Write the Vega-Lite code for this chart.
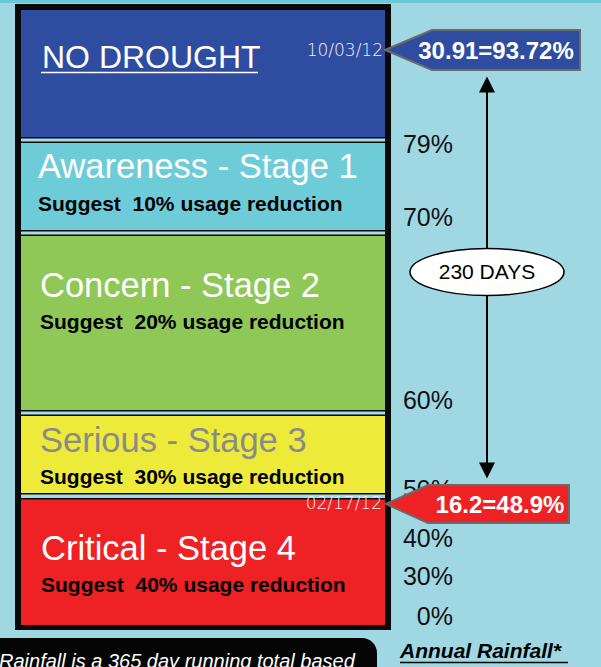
{
  "$schema": "https://vega.github.io/schema/vega-lite/v6.json",
  "width": 601,
  "height": 667,
  "autosize": {"type": "none"},
  "padding": 0,
  "background": "#9FD8E3",
  "config": {"view": {"stroke": null}},
  "datasets": {
    "strip": [{"left": 0, "right": 601, "top": 0, "bottom": 3}],
    "frame": [{"left": 15, "right": 391, "top": 4, "bottom": 630}],
    "bands": [
      {"stage": "No Drought", "left": 21, "right": 385, "top": 10, "bottom": 137},
      {"stage": "Awareness", "left": 21, "right": 385, "top": 143, "bottom": 230},
      {"stage": "Concern", "left": 21, "right": 385, "top": 236, "bottom": 410},
      {"stage": "Serious", "left": 21, "right": 385, "top": 416, "bottom": 493},
      {"stage": "Critical", "left": 21, "right": 385, "top": 499.5, "bottom": 625}
    ],
    "gaps": [
      {"left": 21, "right": 385, "top": 138.5, "bottom": 141.5},
      {"left": 21, "right": 385, "top": 231.5, "bottom": 234.5},
      {"left": 21, "right": 385, "top": 411.5, "bottom": 414.5},
      {"left": 21, "right": 385, "top": 494.5, "bottom": 498}
    ],
    "heading": [{"label": "NO DROUGHT", "x": 42, "y": 68}],
    "headingLine": [{"x": 41, "x2": 258, "y": 72.5}],
    "titles": [
      {"label": "Awareness - Stage 1", "x": 38, "y": 178},
      {"label": "Concern - Stage 2", "x": 40, "y": 297},
      {"label": "Serious - Stage 3", "x": 40, "y": 452},
      {"label": "Critical - Stage 4", "x": 41, "y": 560}
    ],
    "suggest": [
      {"label": "Suggest\u00a0 10% usage reduction", "x": 38, "y": 211},
      {"label": "Suggest\u00a0 20% usage reduction", "x": 40, "y": 329},
      {"label": "Suggest\u00a0 30% usage reduction", "x": 40, "y": 484},
      {"label": "Suggest\u00a0 40% usage reduction", "x": 41, "y": 592}
    ],
    "levels": [
      {"label": "79%", "x": 453, "y": 153},
      {"label": "70%", "x": 453, "y": 226},
      {"label": "60%", "x": 453, "y": 409},
      {"label": "50%", "x": 453, "y": 498},
      {"label": "40%", "x": 453, "y": 547},
      {"label": "30%", "x": 453, "y": 585},
      {"label": "0%", "x": 453, "y": 625}
    ],
    "arrowLine": [{"x": 487, "y": 90, "y2": 465}],
    "arrowUp": [{"x": 487, "y": 84.5}],
    "arrowDown": [{"x": 487, "y": 470.5}],
    "days": [{"label": "230 DAYS", "x": 487, "y": 272}],
    "calloutTop": [{"label": "30.91=93.72%", "cx": 482.5, "cy": 50, "tx": 496, "ty": 59}],
    "calloutBottom": [{"label": "16.2=48.9%", "cx": 477.5, "cy": 504, "tx": 500, "ty": 513}],
    "dates": [
      {"label": "10/03/12", "x": 383, "y": 56},
      {"label": "02/17/12", "x": 382, "y": 509}
    ],
    "note": [{"left": -20, "right": 377, "top": 638, "bottom": 720}],
    "noteText": [{"label": "Rainfall is a 365 day running total based", "x": -1, "y": 668}],
    "footer": [{"label": "Annual Rainfall*", "x": 400, "y": 658}],
    "footerLine": [{"x": 400, "x2": 568, "y": 662.5}]
  },
  "layer": [
    {
      "data": {"name": "strip"},
      "mark": {"type": "rect", "color": "#6CC7D6"},
      "encoding": {
        "x": {"field": "left", "type": "quantitative", "scale": {"domain": [0, 601], "nice": false, "zero": false}, "axis": null},
        "x2": {"field": "right"},
        "y": {"field": "top", "type": "quantitative", "scale": {"domain": [0, 667], "nice": false, "zero": false, "reverse": true}, "axis": null},
        "y2": {"field": "bottom"}
      }
    },
    {
      "data": {"name": "frame"},
      "mark": {"type": "rect", "color": "#0A0A0A"},
      "encoding": {
        "x": {"field": "left", "type": "quantitative", "scale": {"domain": [0, 601], "nice": false, "zero": false}, "axis": null},
        "x2": {"field": "right"},
        "y": {"field": "top", "type": "quantitative", "scale": {"domain": [0, 667], "nice": false, "zero": false, "reverse": true}, "axis": null},
        "y2": {"field": "bottom"}
      }
    },
    {
      "data": {"name": "bands"},
      "mark": {"type": "rect", "opacity": 1},
      "encoding": {
        "x": {"field": "left", "type": "quantitative", "scale": {"domain": [0, 601], "nice": false, "zero": false}, "axis": null},
        "x2": {"field": "right"},
        "y": {"field": "top", "type": "quantitative", "scale": {"domain": [0, 667], "nice": false, "zero": false, "reverse": true}, "axis": null},
        "y2": {"field": "bottom"},
        "color": {
          "field": "stage", "type": "nominal", "legend": null,
          "scale": {"domain": ["No Drought", "Awareness", "Concern", "Serious", "Critical"], "range": ["#2E4DA0", "#6ECCD9", "#8FC857", "#EEEA3A", "#EE2125"]}
        }
      }
    },
    {
      "data": {"name": "gaps"},
      "mark": {"type": "rect", "color": "#A3DBE6"},
      "encoding": {
        "x": {"field": "left", "type": "quantitative", "scale": {"domain": [0, 601], "nice": false, "zero": false}, "axis": null},
        "x2": {"field": "right"},
        "y": {"field": "top", "type": "quantitative", "scale": {"domain": [0, 667], "nice": false, "zero": false, "reverse": true}, "axis": null},
        "y2": {"field": "bottom"}
      }
    },
    {
      "data": {"name": "heading"},
      "mark": {"type": "text", "font": "Liberation Sans", "fontSize": 32, "color": "white", "align": "left", "baseline": "alphabetic"},
      "encoding": {
        "x": {"field": "x", "type": "quantitative", "scale": {"domain": [0, 601], "nice": false, "zero": false}, "axis": null},
        "y": {"field": "y", "type": "quantitative", "scale": {"domain": [0, 667], "nice": false, "zero": false, "reverse": true}, "axis": null},
        "text": {"field": "label"}
      }
    },
    {
      "data": {"name": "headingLine"},
      "mark": {"type": "rule", "color": "white", "strokeWidth": 1.5},
      "encoding": {
        "x": {"field": "x", "type": "quantitative", "scale": {"domain": [0, 601], "nice": false, "zero": false}, "axis": null},
        "x2": {"field": "x2"},
        "y": {"field": "y", "type": "quantitative", "scale": {"domain": [0, 667], "nice": false, "zero": false, "reverse": true}, "axis": null}
      }
    },
    {
      "data": {"name": "titles"},
      "mark": {"type": "text", "font": "Liberation Sans", "fontSize": 34.5, "align": "left", "baseline": "alphabetic"},
      "encoding": {
        "x": {"field": "x", "type": "quantitative", "scale": {"domain": [0, 601], "nice": false, "zero": false}, "axis": null},
        "y": {"field": "y", "type": "quantitative", "scale": {"domain": [0, 667], "nice": false, "zero": false, "reverse": true}, "axis": null},
        "text": {"field": "label"},
        "color": {"condition": {"test": "datum.label === 'Serious - Stage 3'", "value": "#8A8A8A"}, "value": "#FFFFFF"}
      }
    },
    {
      "data": {"name": "suggest"},
      "mark": {"type": "text", "font": "Liberation Sans", "fontSize": 21, "fontWeight": "bold", "color": "#000000", "align": "left", "baseline": "alphabetic"},
      "encoding": {
        "x": {"field": "x", "type": "quantitative", "scale": {"domain": [0, 601], "nice": false, "zero": false}, "axis": null},
        "y": {"field": "y", "type": "quantitative", "scale": {"domain": [0, 667], "nice": false, "zero": false, "reverse": true}, "axis": null},
        "text": {"field": "label"}
      }
    },
    {
      "data": {"name": "levels"},
      "mark": {"type": "text", "font": "Liberation Sans", "fontSize": 25, "color": "#111111", "align": "right", "baseline": "alphabetic"},
      "encoding": {
        "x": {"field": "x", "type": "quantitative", "scale": {"domain": [0, 601], "nice": false, "zero": false}, "axis": null},
        "y": {"field": "y", "type": "quantitative", "scale": {"domain": [0, 667], "nice": false, "zero": false, "reverse": true}, "axis": null},
        "text": {"field": "label"}
      }
    },
    {
      "data": {"name": "arrowLine"},
      "mark": {"type": "rule", "color": "#000000", "strokeWidth": 2},
      "encoding": {
        "x": {"field": "x", "type": "quantitative", "scale": {"domain": [0, 601], "nice": false, "zero": false}, "axis": null},
        "y": {"field": "y", "type": "quantitative", "scale": {"domain": [0, 667], "nice": false, "zero": false, "reverse": true}, "axis": null},
        "y2": {"field": "y2"}
      }
    },
    {
      "data": {"name": "arrowUp"},
      "mark": {"type": "point", "shape": "M0,-1L1,1L-1,1Z", "size": 256, "filled": true, "color": "#000000", "opacity": 1},
      "encoding": {
        "x": {"field": "x", "type": "quantitative", "scale": {"domain": [0, 601], "nice": false, "zero": false}, "axis": null},
        "y": {"field": "y", "type": "quantitative", "scale": {"domain": [0, 667], "nice": false, "zero": false, "reverse": true}, "axis": null}
      }
    },
    {
      "data": {"name": "arrowDown"},
      "mark": {"type": "point", "shape": "M0,1L1,-1L-1,-1Z", "size": 256, "filled": true, "color": "#000000", "opacity": 1},
      "encoding": {
        "x": {"field": "x", "type": "quantitative", "scale": {"domain": [0, 601], "nice": false, "zero": false}, "axis": null},
        "y": {"field": "y", "type": "quantitative", "scale": {"domain": [0, 667], "nice": false, "zero": false, "reverse": true}, "axis": null}
      }
    },
    {
      "data": {"name": "days"},
      "mark": {"type": "point", "shape": "M-1,0A1,0.305,0,1,0,1,0A1,0.305,0,1,0,-1,0Z", "size": 23716, "filled": true, "fill": "#FFFFFF", "stroke": "#000000", "strokeWidth": 1.5, "opacity": 1, "fillOpacity": 1},
      "encoding": {
        "x": {"field": "x", "type": "quantitative", "scale": {"domain": [0, 601], "nice": false, "zero": false}, "axis": null},
        "y": {"field": "y", "type": "quantitative", "scale": {"domain": [0, 667], "nice": false, "zero": false, "reverse": true}, "axis": null}
      }
    },
    {
      "data": {"name": "days"},
      "mark": {"type": "text", "font": "Liberation Sans", "fontSize": 21, "color": "#000000", "align": "center", "baseline": "middle", "dy": 1},
      "encoding": {
        "x": {"field": "x", "type": "quantitative", "scale": {"domain": [0, 601], "nice": false, "zero": false}, "axis": null},
        "y": {"field": "y", "type": "quantitative", "scale": {"domain": [0, 667], "nice": false, "zero": false, "reverse": true}, "axis": null},
        "text": {"field": "label"}
      }
    },
    {
      "data": {"name": "calloutTop"},
      "mark": {"type": "point", "shape": "M-1,0L-0.518,-0.205L1,-0.205L1,0.205L-0.518,0.205Z", "size": 38025, "filled": true, "fill": "#2E4DA0", "stroke": "#6A6A6A", "strokeWidth": 2, "opacity": 1, "fillOpacity": 1},
      "encoding": {
        "x": {"field": "cx", "type": "quantitative", "scale": {"domain": [0, 601], "nice": false, "zero": false}, "axis": null},
        "y": {"field": "cy", "type": "quantitative", "scale": {"domain": [0, 667], "nice": false, "zero": false, "reverse": true}, "axis": null}
      }
    },
    {
      "data": {"name": "calloutTop"},
      "mark": {"type": "text", "font": "Liberation Sans", "fontSize": 24, "fontWeight": "bold", "color": "#FFFFFF", "align": "center", "baseline": "alphabetic"},
      "encoding": {
        "x": {"field": "tx", "type": "quantitative", "scale": {"domain": [0, 601], "nice": false, "zero": false}, "axis": null},
        "y": {"field": "ty", "type": "quantitative", "scale": {"domain": [0, 667], "nice": false, "zero": false, "reverse": true}, "axis": null},
        "text": {"field": "label"}
      }
    },
    {
      "data": {"name": "calloutBottom"},
      "mark": {"type": "point", "shape": "M-1,0L-0.541,-0.208L1,-0.208L1,0.208L-0.541,0.208Z", "size": 33489, "filled": true, "fill": "#EE2125", "stroke": "#6A6A6A", "strokeWidth": 2, "opacity": 1, "fillOpacity": 1},
      "encoding": {
        "x": {"field": "cx", "type": "quantitative", "scale": {"domain": [0, 601], "nice": false, "zero": false}, "axis": null},
        "y": {"field": "cy", "type": "quantitative", "scale": {"domain": [0, 667], "nice": false, "zero": false, "reverse": true}, "axis": null}
      }
    },
    {
      "data": {"name": "calloutBottom"},
      "mark": {"type": "text", "font": "Liberation Sans", "fontSize": 24, "fontWeight": "bold", "color": "#FFFFFF", "align": "center", "baseline": "alphabetic"},
      "encoding": {
        "x": {"field": "tx", "type": "quantitative", "scale": {"domain": [0, 601], "nice": false, "zero": false}, "axis": null},
        "y": {"field": "ty", "type": "quantitative", "scale": {"domain": [0, 667], "nice": false, "zero": false, "reverse": true}, "axis": null},
        "text": {"field": "label"}
      }
    },
    {
      "data": {"name": "dates"},
      "mark": {"type": "text", "font": "DejaVu Sans", "fontSize": 17, "fontWeight": 300, "color": "#F2F2F7", "align": "right", "baseline": "alphabetic"},
      "encoding": {
        "x": {"field": "x", "type": "quantitative", "scale": {"domain": [0, 601], "nice": false, "zero": false}, "axis": null},
        "y": {"field": "y", "type": "quantitative", "scale": {"domain": [0, 667], "nice": false, "zero": false, "reverse": true}, "axis": null},
        "text": {"field": "label"}
      }
    },
    {
      "data": {"name": "note"},
      "mark": {"type": "rect", "color": "#050505", "cornerRadius": 15},
      "encoding": {
        "x": {"field": "left", "type": "quantitative", "scale": {"domain": [0, 601], "nice": false, "zero": false}, "axis": null},
        "x2": {"field": "right"},
        "y": {"field": "top", "type": "quantitative", "scale": {"domain": [0, 667], "nice": false, "zero": false, "reverse": true}, "axis": null},
        "y2": {"field": "bottom"}
      }
    },
    {
      "data": {"name": "noteText"},
      "mark": {"type": "text", "font": "Liberation Sans", "fontSize": 20, "fontStyle": "italic", "color": "#FFFFFF", "align": "left", "baseline": "alphabetic"},
      "encoding": {
        "x": {"field": "x", "type": "quantitative", "scale": {"domain": [0, 601], "nice": false, "zero": false}, "axis": null},
        "y": {"field": "y", "type": "quantitative", "scale": {"domain": [0, 667], "nice": false, "zero": false, "reverse": true}, "axis": null},
        "text": {"field": "label"}
      }
    },
    {
      "data": {"name": "footer"},
      "mark": {"type": "text", "font": "Liberation Sans", "fontSize": 21, "fontStyle": "italic", "fontWeight": "bold", "color": "#000000", "align": "left", "baseline": "alphabetic"},
      "encoding": {
        "x": {"field": "x", "type": "quantitative", "scale": {"domain": [0, 601], "nice": false, "zero": false}, "axis": null},
        "y": {"field": "y", "type": "quantitative", "scale": {"domain": [0, 667], "nice": false, "zero": false, "reverse": true}, "axis": null},
        "text": {"field": "label"}
      }
    },
    {
      "data": {"name": "footerLine"},
      "mark": {"type": "rule", "color": "#000000", "strokeWidth": 1.5},
      "encoding": {
        "x": {"field": "x", "type": "quantitative", "scale": {"domain": [0, 601], "nice": false, "zero": false}, "axis": null},
        "x2": {"field": "x2"},
        "y": {"field": "y", "type": "quantitative", "scale": {"domain": [0, 667], "nice": false, "zero": false, "reverse": true}, "axis": null}
      }
    }
  ]
}
